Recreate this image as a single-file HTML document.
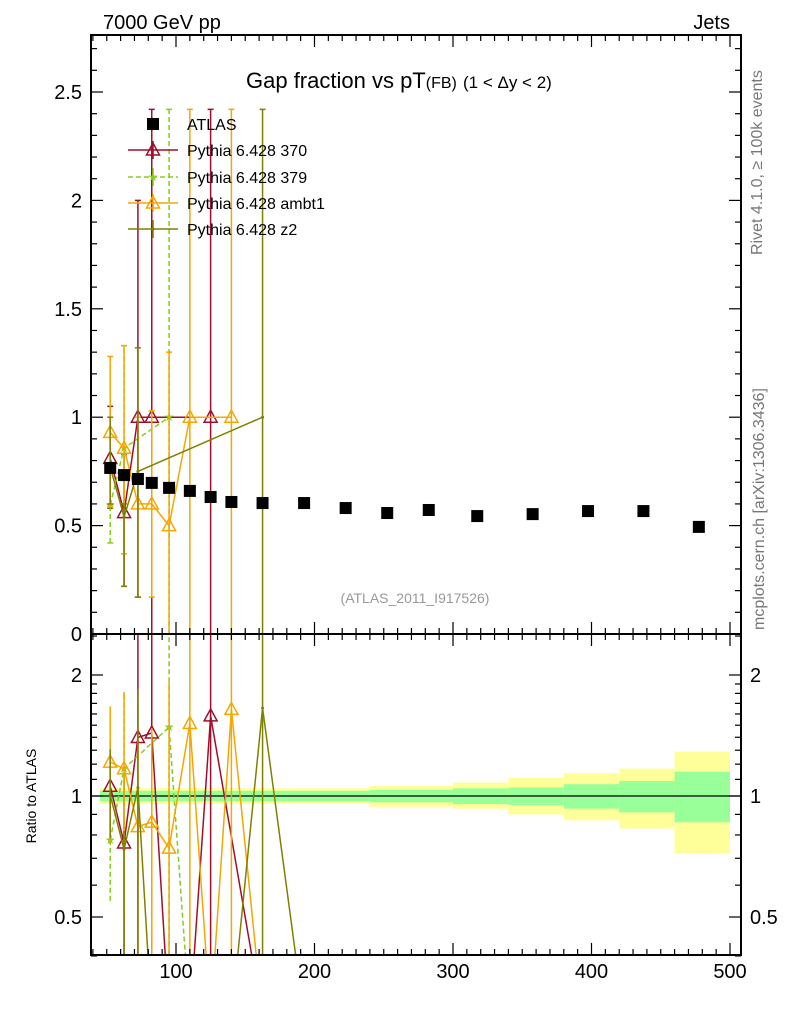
<!DOCTYPE html>
<html><head><meta charset="utf-8"><style>
html,body{margin:0;padding:0;background:#fff;overflow:hidden;}
svg{display:block;}
svg text{font-family:"Liberation Sans",sans-serif;}
</style></head><body>
<svg id="c" width="786" height="1024" xmlns="http://www.w3.org/2000/svg">
<defs>
<clipPath id="cm"><rect x="91" y="35" width="650" height="599"/></clipPath>
<clipPath id="cr"><rect x="91" y="634" width="650" height="321"/></clipPath>
</defs>
<g id="bands" clip-path="url(#cr)"></g>
<g id="main" clip-path="url(#cm)"></g>
<g id="ratio" clip-path="url(#cr)"></g>
<g id="axes"></g>
<text x="103" y="29" font-size="20">7000 GeV pp</text>
<text x="730" y="29" font-size="20" text-anchor="end">Jets</text>
<text x="246" y="88" font-size="22">Gap fraction vs pT<tspan font-size="16">(FB)</tspan> <tspan font-size="17">(1 &lt; Δy &lt; 2)</tspan></text>
<text x="415" y="603" font-size="14" fill="#999" text-anchor="middle">(ATLAS_2011_I917526)</text>
<text transform="translate(762,255) rotate(-90)" font-size="16" fill="#777">Rivet 4.1.0, ≥ 100k events</text>
<text transform="translate(764,630) rotate(-90)" font-size="16" fill="#777">mcplots.cern.ch [arXiv:1306.3436]</text>
<text transform="translate(36,796) rotate(-90)" font-size="14" text-anchor="middle">Ratio to ATLAS</text>
<g id="legend"></g>
</svg>
<script>
const NS="http://www.w3.org/2000/svg";
const bins=[52.5,62.5,72.5,82.5,95,110,125,140,162.5,192.5,222.5,252.5,282.5,317.5,357.5,397.5,437.5,477.5];
const atlas=[0.766,0.733,0.715,0.697,0.674,0.660,0.632,0.609,0.604,0.604,0.581,0.558,0.572,0.544,0.553,0.567,0.567,0.494];
const bandEdges=[45,240,300,340,380,420,460,500];
const greenLo=[0.97,0.965,0.955,0.95,0.93,0.91,0.86];
const greenHi=[1.03,1.035,1.045,1.05,1.07,1.09,1.15];
const yellowLo=[0.955,0.94,0.93,0.90,0.87,0.83,0.72];
const yellowHi=[1.045,1.06,1.08,1.11,1.14,1.17,1.29];
const s370=[0.81,0.56,1.0,1.0,0,0,1.0,null,0];
const s370lo=[0.58,0.22,0.17,0,null,null,0,null,null];
const s370hi=[1.05,0.83,2.0,2.42,null,null,2.42,null,null];
const s379=[0.595,0.857,null,null,1.0,0];
const s379lo=[0.42,0.37,null,null,0,null];
const s379hi=[0.77,1.33,null,null,2.42,null];
const sAmbt=[0.93,0.857,0.6,0.6,0.5,1.0,0,1.0,0];
const sAmbtlo=[0.59,0.37,0.17,0.17,0,0,null,0,null];
const sAmbthi=[1.28,1.33,1.0,1.03,1.3,2.42,null,2.42,null];
const sZ2=[0.77,0.54,0.75,0,0,0,0,0,1.0,0];
const sZ2lo=[0.6,0.22,0.17,null,null,null,null,null,0,null];
const sZ2hi=[1.0,0.6,1.32,null,null,null,null,null,2.42,null];
const legendLabels=["ATLAS","Pythia 6.428 370","Pythia 6.428 379","Pythia 6.428 ambt1","Pythia 6.428 z2"];

const X=v=>176+(v-100)*1.385;
const Y=v=>634-v*216.8;
const R=v=>796-Math.log2(Math.max(v,0.28))*121;
function el(t,a,p){const e=document.createElementNS(NS,t);for(const k in a)e.setAttribute(k,a[k]);document.getElementById(p).appendChild(e);return e;}

for(let i=0;i<bandEdges.length-1;i++){
 const x1=X(bandEdges[i]),x2=X(bandEdges[i+1]);
 let e=el('rect',{x:x1,y:R(yellowHi[i]),width:x2-x1,height:R(yellowLo[i])-R(yellowHi[i]),fill:'#ffff99'},'bands');
 
 
 e=el('rect',{x:x1,y:R(greenHi[i]),width:x2-x1,height:R(greenLo[i])-R(greenHi[i]),fill:'#99ff99'},'bands');
 
 
}
let l=el('line',{x1:91,x2:741,y1:R(1),y2:R(1),stroke:'#000','stroke-width':1.2},'bands');



function marker(g,kind,x,y,col){
 let e;
 if(kind==='tri') e=el('path',{d:`M${x} ${y-7}L${x+6.5} ${y+5}L${x-6.5} ${y+5}Z`,fill:'none',stroke:col,'stroke-width':1.5},g);
 else if(kind==='star') e=el('text',{x:x,y:y+4,'font-size':12,fill:col,'text-anchor':'middle'},g),e.textContent='★';
 else e=el('circle',{cx:x,cy:y,r:1.5,fill:col},g);
 
 
}
const series=[
 {v:s370,lo:s370lo,hi:s370hi,col:'#a00f2a',m:'tri',d:'',name:'pythia-370'},
 {v:s379,lo:s379lo,hi:s379hi,col:'#88cc22',m:'star',d:'5,3',name:'pythia-379'},
 {v:sAmbt,lo:sAmbtlo,hi:sAmbthi,col:'#f5a700',m:'tri',d:'',name:'pythia-ambt1'},
 {v:sZ2,lo:sZ2lo,hi:sZ2hi,col:'#808000',m:'dot',d:'',name:'pythia-z2'}];
series.forEach(s=>{
 let pts=[];
 s.v.forEach((v,i)=>{if(v!==null&&v>0)pts.push([X(bins[i]),Y(v)]);});
 let p=el('polyline',{points:pts.map(q=>q.join(',')).join(' '),fill:'none',stroke:s.col,'stroke-width':1.5,'stroke-dasharray':s.d},'main');
 
 
 s.v.forEach((v,i)=>{
  if(s.lo[i]!=null){const x=X(bins[i]);
   let e=el('line',{x1:x,x2:x,y1:Y(s.lo[i]),y2:Y(s.hi[i]),stroke:s.col,'stroke-width':1.5,'stroke-dasharray':s.d},'main');
   
   
   [s.lo[i],s.hi[i]].forEach(t=>{const c=el('line',{x1:x-3,x2:x+3,y1:Y(t),y2:Y(t),stroke:s.col,'stroke-width':1.5},'main');
    
    });
   let r=el('line',{x1:x,x2:x,y1:R(s.lo[i]/atlas[i]),y2:R(s.hi[i]/atlas[i]),stroke:s.col,'stroke-width':1.5,'stroke-dasharray':s.d},'ratio');
   
   
  }
  if(v!==null&&v>0) marker('main',s.m,X(bins[i]),Y(v),s.col);
 });
 let rp=[];
 s.v.forEach((v,i)=>{if(v!==null)rp.push([X(bins[i]),R(v/atlas[i])]);});
 p=el('polyline',{points:rp.map(q=>q.join(',')).join(' '),fill:'none',stroke:s.col,'stroke-width':1.5,'stroke-dasharray':s.d},'ratio');
 
 
 s.v.forEach((v,i)=>{if(v!==null&&v>0)marker('ratio',s.m,X(bins[i]),R(v/atlas[i]),s.col);});
});
atlas.forEach((v,i)=>{
 const e=el('rect',{x:X(bins[i])-6,y:Y(v)-6,width:12,height:12,fill:'#000'},'main');
 
 
});

let f=el('rect',{x:91,y:35,width:650,height:920,fill:'none',stroke:'#000','stroke-width':2},'axes');


f=el('line',{x1:91,x2:741,y1:634,y2:634,stroke:'#000','stroke-width':2},'axes');


function tick(x1,y1,x2,y2){const t=el('line',{x1,y1,x2,y2,stroke:'#000','stroke-width':1.2},'axes');
 
 }
function lab(x,y,s,a){const t=el('text',{x,y,'font-size':20,'text-anchor':a},'axes');t.textContent=s;
 
 }
for(let v=40;v<=500;v+=10){const x=X(v),L=v%100==0?12:6;
 tick(x,955,x,955-L);tick(x,35,x,35+L);tick(x,634,x,634-L);tick(x,634,x,634+L);
 if(v%100==0)lab(x,978,String(v),'middle');}
for(let i=0;i<=27;i++){const v=i/10,y=Y(v),L=i%5==0?12:6;
 tick(91,y,91+L,y);tick(741,y,741-L,y);
 if(i%5==0&&i>0)lab(82,y+7,String(v),'end');}
lab(82,641,'0','end');
for(const v of [0.4,0.5,0.6,0.7,0.8,0.9,1,1.1,1.2,1.3,1.4,1.5,1.6,1.7,1.8,1.9,2,2.5]){
 const y=R(v),L=(v==0.5||v==1||v==2)?12:6;
 tick(91,y,91+L,y);tick(741,y,741-L,y);}
[[0.5,'0.5'],[1,'1'],[2,'2']].forEach(([v,s])=>{lab(82,R(v)+7,s,'end');lab(750,R(v)+7,s,'start');});

const ly=[124,150,177,203,229];
const lcols=['#000','#a00f2a','#88cc22','#f5a700','#808000'];
const lm=['sq','tri','star','tri','dot'];
const ld=['','','5,3','',''];
legendLabels.forEach((s,i)=>{
 const y=ly[i];
 if(i>0){const e=el('line',{x1:128,x2:178,y1:y,y2:y,stroke:lcols[i],'stroke-width':1.5,'stroke-dasharray':ld[i]},'legend');
  
  
  const v=el('line',{x1:153,x2:153,y1:y-9,y2:y+9,stroke:lcols[i],'stroke-width':1.5},'legend');
  
  
  marker('legend',lm[i],153,y,lcols[i]);}
 else{const e=el('rect',{x:147,y:y-6,width:12,height:12,fill:'#000'},'legend');
  
  }
 const t=el('text',{x:187,y:y+6,'font-size':16},'legend');t.textContent=s;
 
 
});
</script>
</body></html>
